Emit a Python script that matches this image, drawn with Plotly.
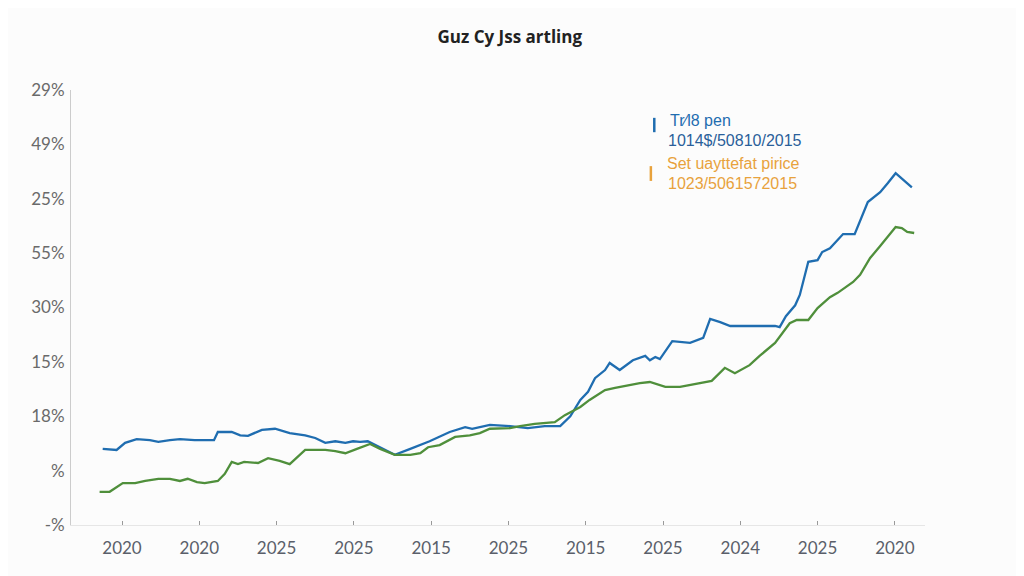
import plotly.graph_objects as go

# Series (x in period units, ticks every 10; y in axis units, ticks every 10)
blue_x = [-2.5, -0.7, 0.4, 1.9, 3.6, 4.7, 6.2, 7.5, 9.4, 11.9, 12.4, 14.2, 15.3, 16.3, 18.1, 19.8,
          21.7, 23.7, 25.0, 26.3, 27.6, 28.9, 29.9, 30.8, 31.8, 33.4, 35.3, 37.3, 39.8, 42.4, 44.4,
          45.3, 47.6, 50.2, 52.5, 54.7, 56.7, 58.0, 59.3, 60.3, 61.2, 62.5, 63.1, 64.4, 66.1, 67.7,
          68.3, 69.0, 69.6, 71.2, 73.5, 75.2, 76.1, 77.4, 78.7, 81.2, 84.5, 85.1, 85.9, 87.1, 87.7,
          88.8, 90.0, 90.6, 91.6, 93.3, 94.8, 96.5, 98.1, 99.1, 100.1, 102.2]
blue_y = [14.0, 13.8, 15.1, 15.8, 15.6, 15.3, 15.6, 15.8, 15.6, 15.6, 17.1, 17.1, 16.5, 16.4, 17.5, 17.7,
          16.9, 16.5, 16.0, 15.1, 15.4, 15.1, 15.4, 15.3, 15.4, 14.2, 12.9, 14.0, 15.4, 17.1, 18.0,
          17.7, 18.4, 18.2, 17.8, 18.2, 18.2, 20.0, 23.0, 24.5, 27.0, 28.5, 29.8, 28.5, 30.3, 31.1,
          30.3, 30.9, 30.5, 33.8, 33.5, 34.4, 37.9, 37.3, 36.6, 36.6, 36.6, 36.4, 38.4, 40.4, 42.3,
          48.4, 48.7, 50.2, 50.9, 53.5, 53.5, 59.4, 61.2, 62.9, 64.7, 62.1]

green_x = [-2.9, -1.6, 0.1, 1.7, 3.0, 4.7, 6.2, 7.5, 8.5, 9.7, 10.7, 12.4, 13.3, 14.2, 15.0, 15.8,
           17.6, 18.9, 20.4, 21.7, 23.7, 25.0, 26.3, 27.6, 28.9, 30.4, 32.1, 33.4, 35.3, 37.3, 38.6,
           39.6, 41.1, 43.1, 45.0, 46.3, 47.6, 50.2, 51.5, 53.4, 56.0, 57.3, 59.3, 60.5, 62.5, 63.8,
           65.7, 67.0, 68.3, 70.3, 72.2, 74.8, 76.3, 78.0, 79.3, 81.2, 82.5, 84.5, 86.4, 87.3, 88.8,
           90.0, 91.6, 92.6, 94.6, 95.5, 96.8, 98.1, 99.4, 100.1, 100.9, 101.6, 102.5]
green_y = [6.1, 6.1, 7.7, 7.7, 8.1, 8.5, 8.5, 8.1, 8.5, 7.9, 7.7, 8.1, 9.4, 11.6, 11.2, 11.6,
           11.4, 12.3, 11.8, 11.2, 13.8, 13.8, 13.8, 13.6, 13.2, 14.0, 14.9, 14.0, 12.9, 12.9, 13.2,
           14.3, 14.7, 16.2, 16.5, 16.9, 17.7, 17.8, 18.2, 18.6, 18.9, 20.2, 21.7, 23.0, 24.8, 25.2,
           25.7, 26.1, 26.3, 25.4, 25.4, 26.1, 26.5, 28.9, 27.9, 29.4, 31.1, 33.5, 37.1, 37.7, 37.7,
           39.9, 41.9, 42.7, 44.7, 46.0, 49.1, 51.3, 53.7, 54.8, 54.6, 53.9, 53.7]

x_tick_vals = [0, 10, 20, 30, 40, 50, 60, 70, 80, 90, 100]
x_tick_text = ["2020", "2020", "2025", "2025", "2015", "2025", "2015", "2025", "2024", "2025", "2020"]
y_tick_vals = [0, 10, 20, 30, 40, 50, 60, 70, 80]
y_tick_text = ["-%", "%", "18%", "15%", "30%", "55%", "25%", "49%", "29%"]

title_text = "Guz Cy Jss artling"
legend_lines = [("Tr\u2044l8 pen", "1014$/50810/2015"), ("Set uayttefat pirice", "1023/5061572015")]

BLUE = "#1f6db0"
GREEN = "#4f8f3b"
ORANGE = "#e8a23c"
TICKFONT = "Lato"
LEGFONT = "Liberation Sans"

fig = go.Figure()
fig.add_trace(go.Scatter(x=blue_x, y=blue_y, mode="lines",
                         line=dict(color=BLUE, width=2.3), showlegend=False))
fig.add_trace(go.Scatter(x=green_x, y=green_y, mode="lines",
                         line=dict(color=GREEN, width=2.3), showlegend=False))

fig.update_layout(
    width=1024, height=576,
    margin=dict(l=63, r=107, t=82, b=59),
    paper_bgcolor="#fcfcfc", plot_bgcolor="#fcfcfc",
    font=dict(family=TICKFONT, color="#666666", size=16),
    title=dict(text="<b>" + title_text + "</b>", x=0.49, xanchor="center",
               y=0.95, yanchor="middle",
               font=dict(family="Open Sans", size=17, color="#222222")),
    xaxis=dict(range=[-6.6, 103.9], tickmode="array", tickvals=x_tick_vals, ticktext=x_tick_text,
               showgrid=False, zeroline=False, showline=True, linecolor="#e6e6e6", linewidth=1,
               ticks="inside", ticklen=4, tickcolor="#999999", tickwidth=1,
               tickfont=dict(family=TICKFONT, size=17, color="#5a5f6a"), ticklabelstandoff=8),
    yaxis=dict(range=[0, 80], tickmode="array", tickvals=y_tick_vals, ticktext=y_tick_text,
               showgrid=False, zeroline=False, showline=True, linecolor="#cccccc", linewidth=1,
               ticks="", tickfont=dict(family=TICKFONT, size=17, color="#6a6a6a"), ticklabelstandoff=2),
)

# custom legend
fig.add_shape(type="line", xref="paper", yref="paper", x0=0.683, x1=0.683, y0=0.903, y1=0.936,
              line=dict(color=BLUE, width=2.5))
fig.add_shape(type="line", xref="paper", yref="paper", x0=0.679, x1=0.679, y0=0.791, y1=0.825,
              line=dict(color=ORANGE, width=2.5))
legend_pos = [(0.699, 0.929, BLUE), (0.697, 0.885, "#2a5f9a"), (0.696, 0.832, ORANGE), (0.697, 0.784, ORANGE)]
texts = [legend_lines[0][0], legend_lines[0][1], legend_lines[1][0], legend_lines[1][1]]
for (px, py, col), t in zip(legend_pos, texts):
    fig.add_annotation(xref="paper", yref="paper", x=px, y=py, text=t, showarrow=False,
                       xanchor="left", yanchor="middle",
                       font=dict(family=LEGFONT, size=16, color=col))

fig.write_html("out.html")
